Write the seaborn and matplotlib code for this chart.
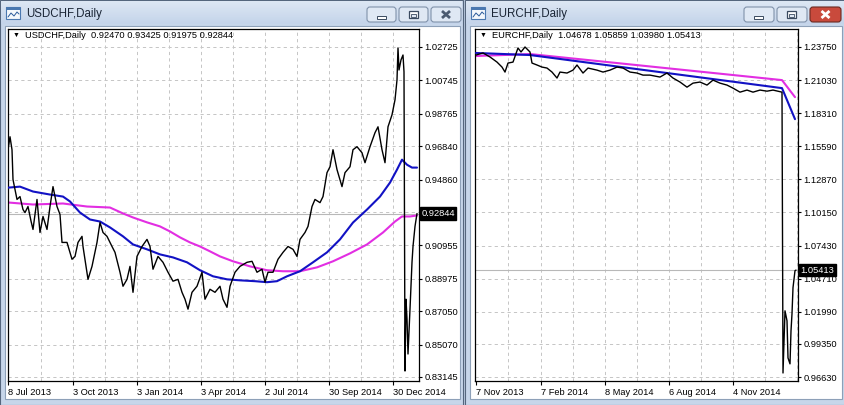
import numpy as np
import pandas as pd
import matplotlib
matplotlib.use("Agg")
import matplotlib.pyplot as plt
import seaborn as sns
from matplotlib.patches import Rectangle, FancyBboxPatch

sns.set_theme(style="white")
plt.rcParams["font.family"] = ["Liberation Sans", "DejaVu Sans"]

# ---------------- data ----------------
usd_title = "USDCHF,Daily"
usd_ohlc = "0.92470 0.93425 0.91975 0.92844"
usd_last = 0.92844
usd_last_label = "0.92844"
usd_date_ticks = [0, 65, 129, 193, 257, 321, 385]
usd_date_labels = ["8 Jul 2013", "3 Oct 2013", "3 Jan 2014", "3 Apr 2014",
                   "2 Jul 2014", "30 Sep 2014", "30 Dec 2014"]
usd_price_ticks = [1.02725, 1.00745, 0.98765, 0.96840, 0.94860,
                   0.90955, 0.88975, 0.87050, 0.85070, 0.83145]
usd_price_labels = ["1.02725", "1.00745", "0.98765", "0.96840", "0.94860",
                    "0.90955", "0.88975", "0.87050", "0.85070", "0.83145"]
usd_hidden_grid = [0.92918]

usd_idx = [0, 2, 4, 5, 7, 9, 12, 15, 17, 20, 23, 25, 29, 32, 35, 39, 42, 45, 49, 52,
           54, 59, 64, 67, 70, 74, 75, 80, 84, 89, 92, 95, 99, 104, 107, 112, 115, 119,
           122, 125, 129, 134, 139, 142, 145, 150, 155, 160, 165, 170, 174, 177, 180,
           184, 189, 194, 197, 202, 207, 212, 215, 219, 222, 227, 232, 239, 244, 249,
           254, 257, 260, 265, 270, 275, 280, 285, 289, 292, 297, 300, 304, 307, 312,
           315, 319, 322, 325, 329, 334, 337, 342, 345, 349, 354, 357, 362, 367, 370,
           374, 377, 380, 384, 387, 389, 390, 391, 393, 395, 396, 397, 398, 399, 400,
           402, 404, 405, 407, 409]
usd_close = [0.9663, 0.9740, 0.9663, 0.9486, 0.9427, 0.9368, 0.9385, 0.9308, 0.9290, 0.9326,
             0.9240, 0.9190, 0.9368, 0.9172, 0.9267, 0.9190, 0.9326, 0.9444, 0.9326, 0.9279,
             0.9113, 0.9113, 0.9013, 0.9030, 0.9113, 0.9149, 0.9089, 0.8894, 0.8971, 0.9113,
             0.9231, 0.9172, 0.9149, 0.9089, 0.9054, 0.8936, 0.8853, 0.8894, 0.8971, 0.8817,
             0.9030, 0.9089, 0.9131, 0.9089, 0.8954, 0.9030, 0.8995, 0.8936, 0.8883, 0.8894,
             0.8817, 0.8776, 0.8717, 0.8817, 0.8853, 0.8936, 0.8776, 0.8835, 0.8817, 0.8853,
             0.8776, 0.8728, 0.8853, 0.8936, 0.8971, 0.8995, 0.9001, 0.8936, 0.8954, 0.8877,
             0.8936, 0.8936, 0.9013, 0.9054, 0.9089, 0.9072, 0.9030, 0.9131, 0.9172, 0.9208,
             0.9326, 0.9368, 0.9349, 0.9385, 0.9527, 0.9562, 0.9663, 0.9545, 0.9444, 0.9527,
             0.9562, 0.9663, 0.9681, 0.9645, 0.9586, 0.9681, 0.9764, 0.9799, 0.9663, 0.9586,
             0.9799, 0.9870, 0.9959, 1.0077, 1.0267, 1.0136, 1.0196, 1.0225, 1.0125, 0.8350,
             0.8776, 0.8658, 0.8451, 0.8717, 0.8995, 0.9089, 0.9208, 0.92844]

usd_ma_fast_idx = [0, 12, 25, 42, 55, 62, 72, 82, 92, 102, 115, 125, 139, 152, 165, 179, 192,
                   205, 219, 232, 247, 259, 269, 279, 292, 305, 319, 332, 345, 359, 372, 382,
                   389, 394, 399, 404, 409]
usd_ma_fast = [0.9438, 0.9444, 0.9415, 0.9397, 0.9385, 0.9356, 0.9290, 0.9249, 0.9237, 0.9202,
               0.9149, 0.9101, 0.9072, 0.9042, 0.9024, 0.8995, 0.8948, 0.8912, 0.8894, 0.8888,
               0.8883, 0.8877, 0.8883, 0.8912, 0.8942, 0.8995, 0.9054, 0.9131, 0.9231, 0.9308,
               0.9385, 0.9468, 0.9545, 0.9604, 0.9574, 0.9557, 0.9557]
usd_ma_slow_idx = [0, 25, 55, 79, 102, 115, 125, 139, 152, 162, 172, 182, 192, 202, 212, 225,
                   242, 259, 275, 292, 309, 325, 342, 359, 375, 387, 394, 402, 409]
usd_ma_slow = [0.9350, 0.9338, 0.9344, 0.9326, 0.9320, 0.9285, 0.9261, 0.9232, 0.9208, 0.9178,
               0.9143, 0.9113, 0.9089, 0.9060, 0.9030, 0.9001, 0.8971, 0.8948, 0.8942, 0.8942,
               0.8965, 0.9001, 0.9048, 0.9101, 0.9172, 0.9237, 0.9267, 0.9267, 0.9273]

eur_title = "EURCHF,Daily"
eur_ohlc = "1.04678 1.05859 1.03980 1.05413"
eur_last = 1.05413
eur_last_label = "1.05413"
eur_date_ticks = [0, 65, 129, 193, 257]
eur_date_labels = ["7 Nov 2013", "7 Feb 2014", "8 May 2014", "6 Aug 2014", "4 Nov 2014"]
eur_price_ticks = [1.23750, 1.21030, 1.18310, 1.15590, 1.12870, 1.10150,
                   1.07430, 1.04710, 1.01990, 0.99350, 0.96630]
eur_price_labels = ["1.23750", "1.21030", "1.18310", "1.15590", "1.12870", "1.10150",
                    "1.07430", "1.04710", "1.01990", "0.99350", "0.96630"]

eur_idx = [0, 7, 14, 21, 26, 29, 32, 37, 42, 45, 49, 54, 56, 61, 66, 71, 76, 81, 84, 91,
           97, 101, 107, 112, 121, 127, 134, 141, 147, 154, 161, 167, 174, 184, 191, 197,
           204, 211, 217, 224, 231, 237, 244, 251, 257, 264, 271, 277, 284, 291, 297, 306,
           307, 309, 311, 312, 314, 315, 316, 317, 319, 320]
eur_close = [1.2309, 1.2326, 1.2293, 1.2251, 1.2210, 1.2169, 1.2243, 1.2251, 1.2367, 1.2334,
             1.2375, 1.2334, 1.2243, 1.2227, 1.2210, 1.2202, 1.2169, 1.2120, 1.2169, 1.2161,
             1.2185, 1.2227, 1.2161, 1.2202, 1.2185, 1.2169, 1.2185, 1.2210, 1.2202, 1.2169,
             1.2161, 1.2144, 1.2144, 1.2128, 1.2161, 1.2120, 1.2087, 1.2045, 1.2078, 1.2087,
             1.2062, 1.2103, 1.2078, 1.2062, 1.2037, 1.2004, 1.2021, 1.2004, 1.2021, 1.2012,
             1.2021, 1.2004, 0.9696, 1.0207, 1.0125, 0.9820, 0.9771, 1.0042, 1.0183, 1.0397,
             1.0537, 1.05413]
eur_ma_fast_idx = [0, 54, 306, 319]
eur_ma_fast = [1.2326, 1.2309, 1.2037, 1.1782]
eur_ma_slow_idx = [0, 54, 306, 319]
eur_ma_slow = [1.2301, 1.2317, 1.2103, 1.1963]

# ---------------- figure / chrome ----------------
W, H = 845, 405
fig = plt.figure(figsize=(W / 100, H / 100), dpi=100)
fig.patch.set_facecolor("#b9c9de")
bg = fig.add_axes([0, 0, 1, 1], zorder=-10)
bg.axis("off")

FONT_SMALL = 6.7
BLUE = "#1212c4"
MAGENTA = "#e22ee2"
GRID = "#c6c6c6"


def rect(x0, y0, x1, y1, **kw):
    bg.add_patch(Rectangle((x0, y0), x1 - x0, y1 - y0, **kw))


def gradient(x0, y0, x1, y1, c_top, c_bot):
    c1 = np.array(matplotlib.colors.to_rgb(c_top))
    c2 = np.array(matplotlib.colors.to_rgb(c_bot))
    t = np.linspace(0, 1, 32)[:, None, None]
    img = c1 * (1 - t) + c2 * t
    img = np.repeat(img, 2, axis=1)
    bg.imshow(img, extent=[x0, x1, y1, y0], origin="upper", aspect="auto",
              interpolation="bilinear", zorder=1)


def button(x0, y0, w, h, kind, active_close=False):
    fc = "#c94a3c" if active_close else "#dfe8f4"
    ec = "#6b2a22" if active_close else "#8092aa"
    bg.add_patch(FancyBboxPatch((x0, y0), w, h, boxstyle="round,pad=0,rounding_size=3",
                                fc=fc, ec=ec, lw=0.8, zorder=3))
    cx, cy = x0 + w / 2, y0 + h / 2
    if kind == "min":
        bg.add_patch(Rectangle((cx - 4.5, cy + 1), 9, 3, fc="white", ec="#3a4a60",
                               lw=0.7, zorder=4))
    elif kind == "max":
        bg.add_patch(Rectangle((cx - 4.5, cy - 3.5), 9, 7, fc="white", ec="#3a4a60",
                               lw=0.9, zorder=4))
        bg.add_patch(Rectangle((cx - 2.5, cy - 1), 5, 3, fc="#dfe8f4", ec="#3a4a60",
                               lw=0.6, zorder=5))
    else:
        col = "white" if active_close else "#4b5a70"
        bg.plot([cx - 4, cx + 4], [cy - 3.5, cy + 3.5], color=col, lw=2.0, zorder=4,
                solid_capstyle="butt")
        bg.plot([cx - 4, cx + 4], [cy + 3.5, cy - 3.5], color=col, lw=2.0, zorder=4,
                solid_capstyle="butt")


def icon(x0, y0):
    bg.add_patch(Rectangle((x0, y0), 14, 12, fc="#f4f8fc", ec="#4a78b0", lw=0.8, zorder=3))
    bg.add_patch(Rectangle((x0, y0), 14, 3, fc="#4a78b0", ec="none", zorder=4))
    bg.plot([x0 + 2, x0 + 5, x0 + 8, x0 + 11, x0 + 13],
            [y0 + 10, y0 + 6, y0 + 9, y0 + 5, y0 + 7], color="#2a5a9a", lw=0.7, zorder=4)


def window(x0, x1, title):
    rect(x0, 0, x1, H, fc="#c7d6ea", ec="#55667d", lw=0.8, zorder=0)
    gradient(x0 + 1, 1, x1 - 1, 24, "#dde7f4", "#c4d4ea")
    rect(x0 + 5, 26, x1 - 3, 399, fc="white", ec="#8da0b8", lw=0.8, zorder=2)
    icon(x0 + 6, 7)
    bg.text(x0 + 26, 13.5, title, fontsize=8.3, color="#1a2535", va="center", ha="left",
            zorder=5)


window(0, 463, usd_title)
window(465, 845, eur_title)
button(367, 7, 29, 15, "min")
button(399, 7, 29, 15, "max")
button(431, 7, 30, 15, "close")
button(744, 7, 30, 15, "min")
button(777, 7, 30, 15, "max")
button(810, 7, 31, 15, "close", active_close=True)
bg.set_xlim(0, W)
bg.set_ylim(H, 0)


# ---------------- charts ----------------
def chart(box, xlim, ylim, idx, close, fidx, fast, sidx, slow, dticks, dlabels, pticks,
          plabels, vgrid, last, last_label, name, ohlc, extra_grid=()):
    x0, y0, x1, y1 = box
    ax = fig.add_axes([x0 / W, 1 - y1 / H, (x1 - x0) / W, (y1 - y0) / H], zorder=1)
    ax.set_facecolor("white")
    for v in list(pticks) + list(extra_grid):
        ax.axhline(v, color=GRID, lw=0.72, ls=(0, (3.2, 3.2)), zorder=0.5)
    for v in vgrid:
        ax.axvline(v, color=GRID, lw=0.72, ls=(0, (3.2, 3.2)), zorder=0.5)
    ax.axhline(last, color="#b8b8b8", lw=0.8, zorder=0.6)

    sns.lineplot(x=sidx, y=slow, ax=ax, color=MAGENTA, linewidth=1.5, estimator=None,
                 zorder=2)
    sns.lineplot(x=fidx, y=fast, ax=ax, color=BLUE, linewidth=1.5, estimator=None,
                 zorder=3)
    sns.lineplot(x=idx, y=close, ax=ax, color="black", linewidth=1.0, estimator=None,
                 zorder=4)

    ax.set_xlim(*xlim)
    ax.set_ylim(*ylim)
    ax.set_xlabel("")
    ax.set_ylabel("")
    ax.set_xticks(dticks)
    ax.set_xticklabels(dlabels, ha="left")
    ax.yaxis.tick_right()
    ax.set_yticks(pticks)
    ax.set_yticklabels(plabels)
    ax.tick_params(axis="x", direction="out", length=3, width=0.8, pad=2,
                   labelsize=FONT_SMALL, colors="black", bottom=True)
    ax.tick_params(axis="y", direction="out", length=2.5, width=0.8, pad=1.5,
                   labelsize=FONT_SMALL, colors="black", right=True, left=False)
    for s in ax.spines.values():
        s.set_color("black")
        s.set_linewidth(0.9)
        s.set_visible(True)
    ax.grid(False)

    ax.annotate(last_label, xy=(1, last), xycoords=("axes fraction", "data"),
                xytext=(1.6, 0), textcoords="offset points", ha="left", va="center",
                color="white", fontsize=FONT_SMALL, annotation_clip=False, zorder=10,
                bbox=dict(boxstyle="square,pad=0.18", fc="black", ec="black"))

    ax.text(5 / (x1 - x0), 1 - 6.5 / (y1 - y0), "▼", transform=ax.transAxes,
            fontsize=5, va="center", ha="left", color="black", zorder=10)
    ax.text(17 / (x1 - x0), 1 - 6.5 / (y1 - y0), name + "  " + ohlc,
            transform=ax.transAxes, fontsize=FONT_SMALL, va="center", ha="left",
            color="black", zorder=10)
    return ax


s_usd = (1.02725 - 0.83145) / 330
usd_ylim = (0.83145 - 4 * s_usd, 1.02725 + 18 * s_usd)
s_eur = (1.23750 - 0.96630) / 330
eur_ylim = (0.96630 - 4 * s_eur, 1.23750 + 18 * s_eur)

usd_vgrid = [33, 65, 97, 129, 161, 193, 225, 257, 289, 321, 353, 385]
eur_vgrid = [32, 65, 97, 129, 161, 193, 225, 257, 289, 321]

chart((8, 29, 419, 381), (0, 411), usd_ylim, usd_idx, usd_close,
      usd_ma_fast_idx, usd_ma_fast, usd_ma_slow_idx, usd_ma_slow,
      usd_date_ticks, usd_date_labels, usd_price_ticks, usd_price_labels, usd_vgrid,
      usd_last, usd_last_label, usd_title, usd_ohlc, extra_grid=usd_hidden_grid)
chart((475, 29, 798, 381), (-1, 322), eur_ylim, eur_idx, eur_close,
      eur_ma_fast_idx, eur_ma_fast, eur_ma_slow_idx, eur_ma_slow,
      eur_date_ticks, eur_date_labels, eur_price_ticks, eur_price_labels, eur_vgrid,
      eur_last, eur_last_label, eur_title, eur_ohlc)

fig.savefig("out.png", dpi=100)
